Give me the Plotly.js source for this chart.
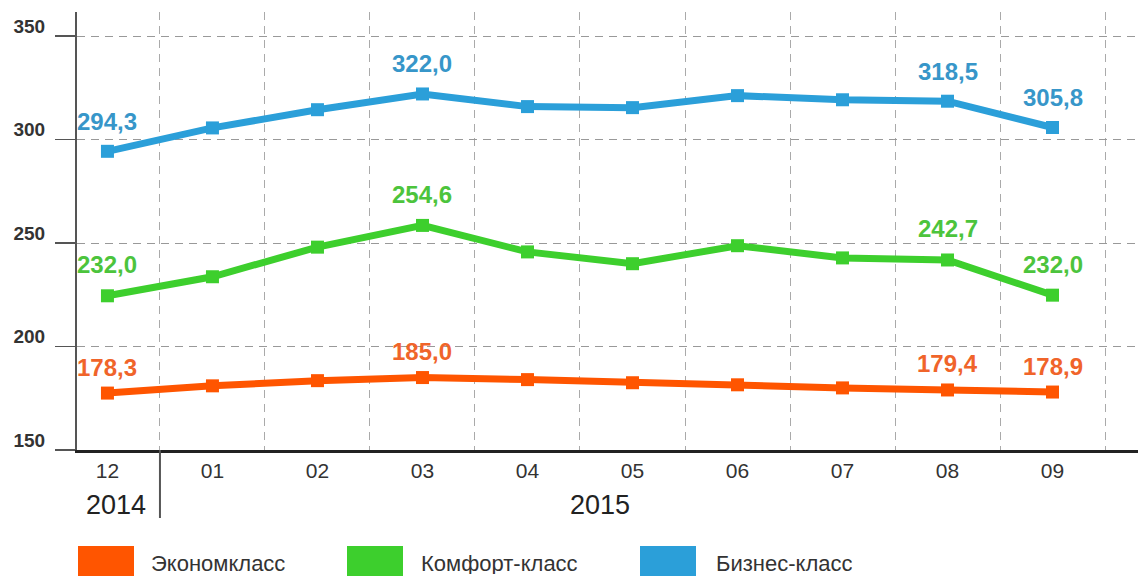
<!DOCTYPE html>
<html>
<head>
<meta charset="utf-8">
<script src="https://cdn.plot.ly/plotly-3.0.1.min.js"></script>
<style>html,body{margin:0;padding:0;background:#fff;}#chart{width:1138px;height:576px;}</style>
</head>
<body>
<div id="chart"></div>
<script>
// ---- data ----
var months = ["12", "01", "02", "03", "04", "05", "06", "07", "08", "09"];
var years = ["2014", "2015"];
var seriesNames = ["Экономкласс", "Комфорт-класс", "Бизнес-класс"];
var economy = [177.5, 181.0, 183.5, 185.0, 184.0, 182.5, 181.5, 180.0, 179.0, 178.0];
var comfort = [224.5, 233.7, 248.0, 258.5, 245.7, 240.0, 248.7, 242.8, 241.8, 224.8];
var business = [294.3, 305.6, 314.4, 322.0, 315.9, 315.4, 321.2, 319.2, 318.5, 305.8];
var labelIndex = [0, 3, 8, 9];
var economyLabels = ["178,3", "185,0", "179,4", "178,9"];
var comfortLabels = ["232,0", "254,6", "242,7", "232,0"];
var businessLabels = ["294,3", "322,0", "318,5", "305,8"];
var yTicks = [150, 200, 250, 300, 350];

// ---- styles ----
var lineColors = ["#ff5500", "#3dcf2d", "#2b9fd9"];
var labelColors = ["#f0642a", "#4cc43c", "#3796c9"];
var values = [economy, comfort, business];
var labels = [economyLabels, comfortLabels, businessLabels];
var labelShift = [26, 31, 30];

var W = 1138, H = 576, ML = 77, MR = 0, MT = 12, MB = 126;
var PW = W - ML - MR, PH = H - MT - MB;
function fx(px) { return (px - ML) / PW; }
function fy(py) { return (H - MB - py) / PH; }

var traces = [];
for (var s = 0; s < 3; s++) {
  traces.push({
    type: "scatter", mode: "lines+markers",
    x: months, y: values[s], name: seriesNames[s],
    line: {color: lineColors[s], width: 7},
    marker: {symbol: "square", size: 13, color: lineColors[s]},
    hoverinfo: "x+y", showlegend: false
  });
}

var annotations = [];
for (var s = 0; s < 3; s++) {
  for (var k = 0; k < labelIndex.length; k++) {
    var i = labelIndex[k];
    annotations.push({
      xref: "x", yref: "y", x: i, y: values[s][i], text: labels[s][k],
      showarrow: false, yshift: labelShift[s], xanchor: "center", yanchor: "middle",
      font: {family: "Liberation Sans, Arial, sans-serif", size: 24, color: labelColors[s], weight: "bold"}
    });
  }
}
// year labels
annotations.push({xref: "x", yref: "paper", x: 0.08, y: fy(505), text: years[0], showarrow: false,
  xanchor: "center", yanchor: "middle", font: {family: "Liberation Sans, Arial, sans-serif", size: 27, color: "#222"}});
annotations.push({xref: "x", yref: "paper", x: 4.69, y: fy(505), text: years[1], showarrow: false,
  xanchor: "center", yanchor: "middle", font: {family: "Liberation Sans, Arial, sans-serif", size: 27, color: "#222"}});

var shapes = [];
// separator between years
shapes.push({type: "line", xref: "x", yref: "paper", x0: 0.5, x1: 0.5, y0: 0, y1: fy(518),
  line: {color: "#555", width: 2}});

// legend
var legRectX = [78, 347, 640];
var legTextX = [150, 420, 715];
for (var s = 0; s < 3; s++) {
  shapes.push({type: "rect", xref: "paper", yref: "paper",
    x0: fx(legRectX[s]), x1: fx(legRectX[s] + 56), y0: fy(546), y1: fy(590),
    fillcolor: lineColors[s], line: {width: 0}});
  annotations.push({xref: "paper", yref: "paper", x: fx(legTextX[s]), y: fy(563), text: seriesNames[s],
    showarrow: false, xanchor: "left", yanchor: "middle", height: 22, valign: "middle", borderpad: 0,
    font: {family: "Liberation Sans, Arial, sans-serif", size: 22, color: "#333"}});
}

var layout = {
  width: W, height: H,
  margin: {l: ML, r: MR, t: MT, b: MB, pad: 0},
  paper_bgcolor: "#fff", plot_bgcolor: "#fff",
  showlegend: false,
  xaxis: {
    type: "category", range: [-0.29, 9.814],
    tickson: "boundaries", ticks: "",
    showgrid: true, gridcolor: "#aaa", griddash: "8px,6px", gridwidth: 1,
    showline: true, linecolor: "#222", linewidth: 2.5,
    zeroline: false, ticklabelstandoff: 0,
    tickfont: {family: "Liberation Sans, Arial, sans-serif", size: 21, color: "#333"},
    fixedrange: true
  },
  yaxis: {
    range: [150, 361.6], tickmode: "array", tickvals: yTicks, ticktext: yTicks.map(String),
    ticks: "outside", ticklen: 20, tickwidth: 1.5, tickcolor: "#555",
    showgrid: true, gridcolor: "#999", griddash: "8px,6px", gridwidth: 1,
    showline: true, linecolor: "#555", linewidth: 2,
    zeroline: false, ticklabelshift: -10, ticklabelstandoff: 6,
    tickfont: {family: "Liberation Sans, Arial, sans-serif", size: 19, color: "#333", weight: "bold"},
    fixedrange: true
  },
  annotations: annotations,
  shapes: shapes
};

Plotly.newPlot("chart", traces, layout, {displayModeBar: false, staticPlot: true});
</script>
</body>
</html>
